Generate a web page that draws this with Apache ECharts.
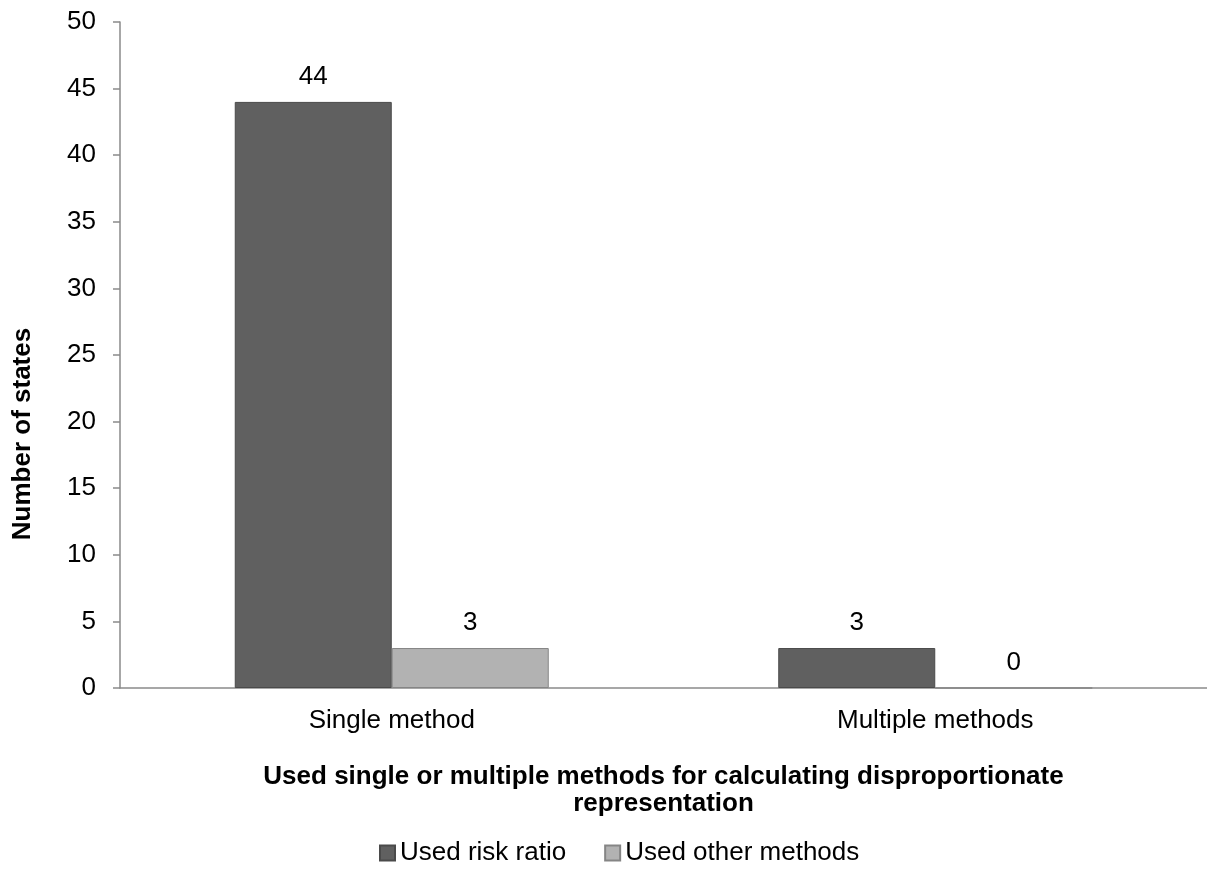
<!DOCTYPE html>
<html>
<head>
<meta charset="utf-8">
<script src="https://cdn.jsdelivr.net/npm/echarts@6/dist/echarts.min.js"></script>
<style>
html,body{margin:0;padding:0;background:#fff;}
#chart{width:1207px;height:874px;}
</style>
</head>
<body>
<div id="chart"></div>
<script>
const categories = ['Single method', 'Multiple methods'];
const riskRatio = [44, 3];
const otherMethods = [3, 0];
const seriesNames = ['Used risk ratio', 'Used other methods'];
const yTicks = { min: 0, max: 50, interval: 5 };
const yName = 'Number of states';
const xName = 'Used single or multiple methods for calculating disproportionate\nrepresentation';

const FONT = '"Liberation Sans", Arial, sans-serif';
const FS = 26;
const chart = echarts.init(document.getElementById('chart'), null, { renderer: 'canvas' });

chart.setOption({
  animation: false,
  backgroundColor: '#ffffff',
  textStyle: { fontFamily: FONT },
  grid: { left: 120, top: 22, width: 1096, height: 666, containLabel: false },
  legend: {
    data: seriesNames,
    left: 374,
    top: 840,
    padding: [0, 5, 0, 5],
    itemWidth: 15,
    itemHeight: 15,
    itemGap: 38,
    icon: 'rect',
    textStyle: { fontFamily: FONT, fontSize: FS, color: '#000', padding: [0, 0, 0, 0] }
  },
  xAxis: {
    type: 'category',
    data: categories,
    axisLine: { show: true, lineStyle: { color: '#8a8a8a', width: 1.5 } },
    axisTick: { show: false },
    axisLabel: { fontFamily: FONT, fontSize: FS, color: '#000', margin: 20 },
    name: xName,
    nameLocation: 'middle',
    nameGap: 75,
    nameTextStyle: { fontFamily: FONT, fontSize: FS, fontWeight: 'bold', color: '#000', lineHeight: 27, align: 'center' }
  },
  yAxis: {
    type: 'value',
    min: yTicks.min,
    max: yTicks.max,
    interval: yTicks.interval,
    axisLine: { show: true, lineStyle: { color: '#8a8a8a', width: 1.5 } },
    axisTick: { show: true, length: 7, lineStyle: { color: '#8a8a8a', width: 1.5 } },
    splitLine: { show: false },
    axisLabel: { fontFamily: FONT, fontSize: FS, color: '#000', margin: 24 }
  },
  graphic: [{
    type: 'text',
    rotation: Math.PI / 2,
    x: 23,
    y: 434,
    style: {
      text: yName,
      fontFamily: FONT,
      fontSize: FS,
      fontWeight: 'bold',
      fill: '#000',
      align: 'center',
      verticalAlign: 'middle'
    }
  }],
  series: [
    {
      name: seriesNames[0],
      type: 'bar',
      data: riskRatio,
      barWidth: 157,
      barGap: '0%',
      itemStyle: { color: '#606060', borderColor: '#4a4a4a', borderWidth: 1 },
      label: { show: true, position: 'top', distance: 12, fontFamily: FONT, fontSize: FS, color: '#000' }
    },
    {
      name: seriesNames[1],
      type: 'bar',
      data: otherMethods,
      barWidth: 157,
      barGap: '0%',
      itemStyle: { color: '#b2b2b2', borderColor: '#858585', borderWidth: 1 },
      label: { show: true, position: 'top', distance: 12, fontFamily: FONT, fontSize: FS, color: '#000' }
    }
  ]
});
</script>
</body>
</html>
